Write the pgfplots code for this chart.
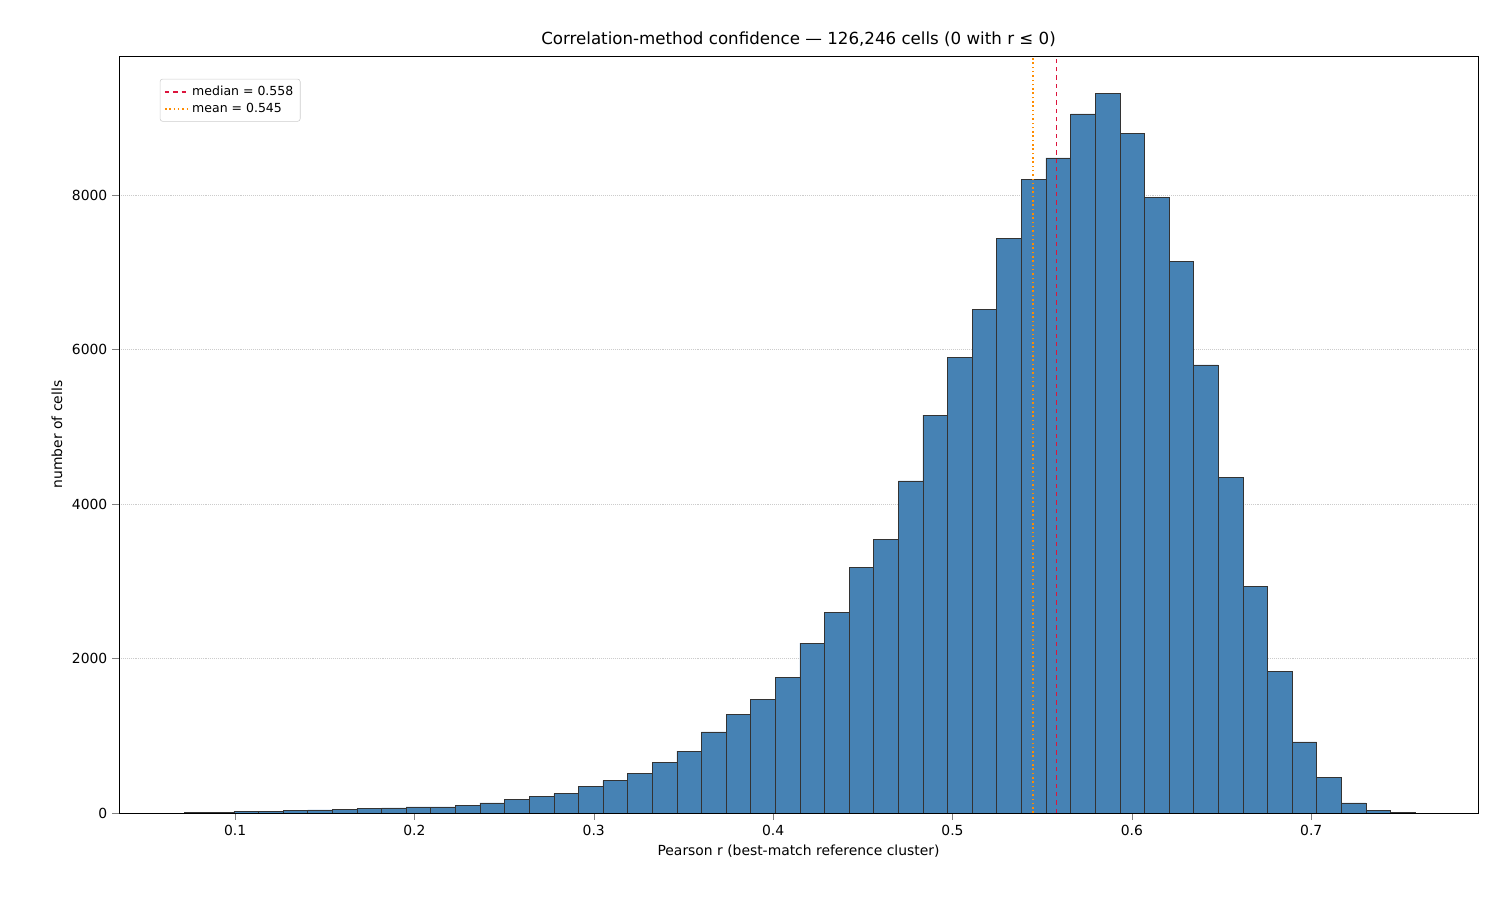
\documentclass[border=0pt]{standalone}
\usepackage{pgfplots}
\pgfplotsset{compat=1.18}
\usepackage{fontspec}
\setmainfont{DejaVu Sans}
\definecolor{steel}{RGB}{70,130,180}
\definecolor{crim}{RGB}{220,20,60}
\definecolor{darko}{RGB}{255,140,0}
\begin{document}
\begin{tikzpicture}
\begin{axis}[
  scale only axis, width=978.5pt, height=545pt,
  xmin=0.0353, xmax=0.793, ymin=0, ymax=9799,
  xtick={0.1,0.2,0.3,0.4,0.5,0.6,0.7},
  xticklabels={0.1,0.2,0.3,0.4,0.5,0.6,0.7},
  ytick={0,2000,4000,6000,8000},
  scaled y ticks=false,
  /pgf/number format/assume math mode=true,
  /pgf/number format/1000 sep={},
  tick label style={font=\fontsize{10}{12}\selectfont},
  tick align=outside, tick pos=left,
  major tick length=4.9pt,
  ymajorgrids, grid style={densely dotted, gray!40},
  xlabel={Pearson r (best-match reference cluster)},
  ylabel={number of cells},
  label style={font=\fontsize{10}{12}\selectfont},
  title={Correlation-method confidence — 126,246 cells (0 with r ≤ 0)},
  title style={font=\fontsize{12}{14}\selectfont, yshift=-3pt},
  legend pos=north west,
  legend style={font=\fontsize{9}{11}\selectfont, draw=gray!40, rounded corners=2pt, inner sep=3pt},
  legend cell align=left,
]
\addplot[ybar interval, fill=steel, draw=black!80, line width=0.35pt, forget plot] table[x=x,y=y] {
x y
0.07190 5
0.08562 10
0.09934 22
0.11306 25
0.12678 30
0.14050 40
0.15422 45
0.16794 60
0.18166 65
0.19538 80
0.20910 80
0.22282 100
0.23654 130
0.25026 180
0.26398 220
0.27770 250
0.29142 340
0.30514 420
0.31886 510
0.33258 660
0.34630 800
0.36002 1050
0.37374 1280
0.38746 1470
0.40118 1760
0.41490 2200
0.42862 2600
0.44234 3180
0.45606 3540
0.46978 4300
0.48350 5150
0.49722 5900
0.51094 6520
0.52466 7440
0.53838 8200
0.55210 8480
0.56582 9050
0.57954 9320
0.59326 8800
0.60698 7970
0.62070 7140
0.63442 5800
0.64814 4340
0.66186 2930
0.67558 1830
0.68930 920
0.70302 460
0.71674 130
0.73046 30
0.74418 5
0.75790 5
};
\addplot[crim, dashed, line width=1.1pt] coordinates {(0.558,0) (0.558,9799)};
\addlegendentry{median = 0.558}
\addplot[darko, dotted, line width=1.1pt] coordinates {(0.545,0) (0.545,9799)};
\addlegendentry{mean = 0.545}
\coordinate (ll) at (rel axis cs:0,0);
\end{axis}
\path[use as bounding box] ([shift={(-85.68pt,-62.64pt)}]ll) rectangle ++(1080pt,648pt);
\end{tikzpicture}
\end{document}
